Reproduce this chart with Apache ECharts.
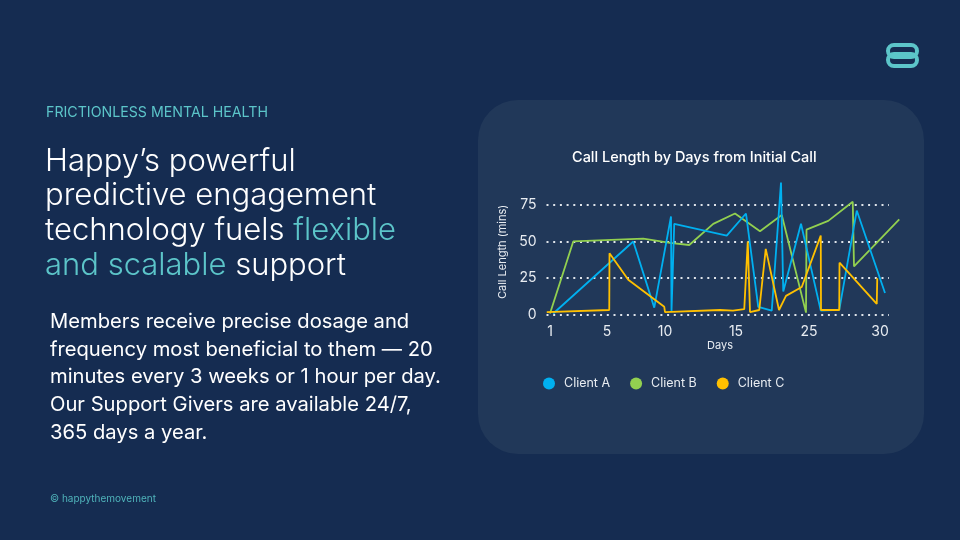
<!DOCTYPE html>
<html>
<head>
<meta charset="utf-8">
<script src="https://cdn.jsdelivr.net/npm/echarts@6/dist/echarts.min.js"></script>
<style>
html,body{margin:0;padding:0;background:#152c51;}
#chart{width:960px;height:540px;}
</style>
</head>
<body>
<div id="chart"></div>
<script>
// x positions are in axis units (one unit per small step along the day axis)
const xTickPositions = [0.4, 23.2, 46.4, 74.8, 104, 132.4];
const xTickLabels = ['1', '5', '10', '15', '25', '30'];
const seriesNames = ['Client A', 'Client B', 'Client C'];
const clientA = [[1.7,1],[33.7,50],[42.1,5],[48.8,67],[49,2],[50.1,62],[71.1,54],[78.8,69],[83.7,5.6],[89.1,3],[92.8,90],[93.7,16],[100.8,62],[108.7,3],[116.1,3.5],[123.1,71],[134.4,15]];
const clientB = [[0.4,1],[9.7,50],[37.7,52],[48.4,49],[56.1,47.6],[65.7,62],[74.4,69],[84.4,57],[93.1,68],[102.8,1.6],[103,58],[111.7,64],[121.5,77],[122,33],[140.1,65]];
const clientC = [[-0.9,2],[24.1,3.4],[24.2,42],[31.7,24],[46.1,5.6],[46.4,2],[68.4,3.4],[73.6,3],[78.1,4],[79.5,50],[80.4,2],[84.1,3.4],[86.7,45],[92,3.4],[94.8,13],[101.1,19],[108.7,54],[108.8,3.4],[116.1,3.4],[116.2,35.6],[131.1,7.5],[131.3,25]];
const yTicks = [0, 25, 50, 75];

const colors = ['#00b0f0', '#92d050', '#ffc000'];
const teal = '#5cc5c9';
const FONT = 'Inter, "Noto Sans", sans-serif';

const chart = echarts.init(document.getElementById('chart'), null, {renderer: 'canvas'});

const textLines = (lines, x, ys, font, fill) => lines.map((t, i) => ({
  type: 'text', x: x, y: ys[i], z: 10,
  style: {text: t, font: font, fill: fill, verticalAlign: 'middle', align: 'left',
    rich: {w: {fill: '#ffffff', font: font}, t: {fill: teal, font: font}}}
}));

const yMin = yTicks[0], yMax = yTicks[yTicks.length - 1];
const xMin = -1, xMaxGrid = 136, xMaxData = 141;
const gridLeft = 546.5, gridTop = 204.7, gridBottom = 225;
const pxPerUnit = 2.5;

const option = {
  backgroundColor: '#152c51',
  animation: false,
  color: colors,
  title: {
    text: 'Call Length by Days from Initial Call',
    left: 572, top: 150, padding: 0,
    textStyle: {color: '#ffffff', fontSize: 14.5, fontWeight: 500, fontFamily: FONT}
  },
  legend: {
    data: seriesNames,
    left: 543, top: 377, padding: 0,
    icon: 'circle', itemWidth: 12, itemHeight: 12, itemGap: 20,
    textStyle: {color: '#e8ecf1', fontSize: 12.5, fontFamily: FONT, padding: [0, 0, 0, 4]}
  },
  grid: [
    {left: gridLeft, width: (xMaxGrid - xMin) * pxPerUnit, top: gridTop, bottom: gridBottom, containLabel: false, outerBoundsMode: 'none'},
    {left: gridLeft, width: (xMaxData - xMin) * pxPerUnit, top: gridTop, bottom: gridBottom, containLabel: false, outerBoundsMode: 'none'}
  ],
  xAxis: [
    {gridIndex: 0, type: 'value', min: xMin, max: xMaxGrid, show: false},
    {
      gridIndex: 1, type: 'value', min: xMin, max: xMaxData,
      name: 'Days', nameLocation: 'middle', nameGap: 25,
      nameTextStyle: {color: '#e8ecf1', fontSize: 11, fontFamily: FONT, padding: [0, 8, 0, 0]},
      axisLine: {show: false}, axisTick: {show: false}, splitLine: {show: false},
      axisLabel: {
        customValues: xTickPositions,
        color: '#e8ecf1', fontSize: 14, fontFamily: FONT, margin: 10,
        formatter: function (v) {
          let best = -1, bd = 1e9;
          xTickPositions.forEach((p, i) => { const d = Math.abs(p - v); if (d < bd) { bd = d; best = i; } });
          return bd < 0.01 ? xTickLabels[best] : '';
        }
      }
    }
  ],
  yAxis: [
    {
      gridIndex: 0, type: 'value', min: yMin, max: yMax, interval: 25,
      name: 'Call Length (mins)', nameLocation: 'middle', nameGap: 38,
      nameTextStyle: {color: '#e8ecf1', fontSize: 11, fontFamily: FONT, padding: [0, 0, 0, 16]},
      axisLine: {show: false}, axisTick: {show: false},
      axisLabel: {color: '#e8ecf1', fontSize: 14, fontFamily: FONT, margin: 10},
      splitLine: {show: true, lineStyle: {color: '#dfe4ea', width: 2, type: [2, 4.7]}}
    },
    {gridIndex: 1, type: 'value', min: yMin, max: yMax, interval: 25, show: false, splitLine: {show: false}}
  ],
  series: [
    {name: seriesNames[0], type: 'line', xAxisIndex: 1, yAxisIndex: 1, data: clientA, showSymbol: false, symbol: 'none', clip: false, lineStyle: {width: 1.8}, z: 3},
    {name: seriesNames[1], type: 'line', xAxisIndex: 1, yAxisIndex: 1, data: clientB, showSymbol: false, symbol: 'none', clip: false, lineStyle: {width: 1.8}, z: 2},
    {name: seriesNames[2], type: 'line', xAxisIndex: 1, yAxisIndex: 1, data: clientC, showSymbol: false, symbol: 'none', clip: false, lineStyle: {width: 1.8}, z: 4}
  ],
  graphic: [
    {type: 'rect', z: -10, shape: {x: 478, y: 100, width: 446, height: 354, r: 40}, style: {fill: '#213859'}},
    {type: 'rect', z: 10, shape: {x: 888, y: 45, width: 29, height: 12, r: 6}, style: {fill: 'none', stroke: teal, lineWidth: 4}},
    {type: 'rect', z: 10, shape: {x: 888, y: 54, width: 29, height: 12, r: 6}, style: {fill: 'none', stroke: teal, lineWidth: 4}},
    ...textLines(['FRICTIONLESS MENTAL HEALTH'], 46, [112.3], '400 14.2px ' + FONT, teal),
    ...textLines(['Happy\u2019s powerful', 'predictive engagement', '{w|technology fuels }{t|flexible}', '{t|and scalable}{w| support}'],
      45, [161.5, 196, 230.5, 265.5], '300 31px ' + FONT, '#ffffff'),
    ...textLines(['Members receive precise dosage and', 'frequency most beneficial to them \u2014 20', 'minutes every 3 weeks or 1 hour per day.', 'Our Support Givers are available 24/7,', '365 days a year.'],
      50, [322, 350, 377, 405, 432.5], '400 20.2px ' + FONT, '#ffffff'),
    ...textLines(['\u00a9 happythemovement'], 50, [498.5], '400 10px ' + FONT, '#4fb3ba')
  ]
};
chart.setOption(option);
</script>
</body>
</html>
